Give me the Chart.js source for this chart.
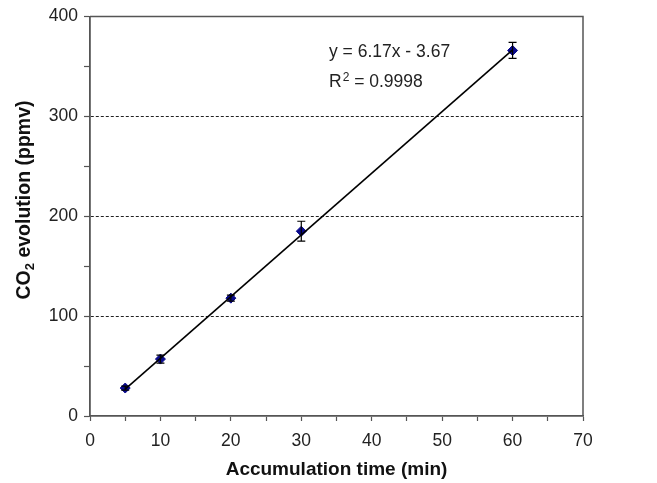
<!DOCTYPE html>
<html>
<head>
<meta charset="utf-8">
<script src="https://cdn.jsdelivr.net/npm/chart.js@4.4.0/dist/chart.umd.min.js"></script>
<style>
  html, body { margin: 0; padding: 0; background: #fff; }
  #wrap { width: 657px; height: 483px; }
</style>
</head>
<body>
<div id="wrap"><canvas id="co2Chart"></canvas></div>
<script>
// data
const times = [5, 10, 20, 30, 60];
const co2 = [28, 57, 118, 185, 366];
const co2Err = [2, 4, 3, 10, 8];
const fitX = [5, 60];
const fitY = [27, 366.5];
const eqText = "y = 6.17x - 3.67";
const r2Text = " = 0.9998";

const FONT = "'Liberation Sans', Arial, sans-serif";

// error bars, frame, equation and y title (with a real subscript)
const extras = {
  id: "extras",
  afterDatasetsDraw(chart) {
    const { ctx, chartArea, scales } = chart;
    ctx.save();
    ctx.strokeStyle = "#000";
    ctx.lineWidth = 1.2;
    times.forEach((t, i) => {
      const x = scales.x.getPixelForValue(t);
      const yTop = scales.y.getPixelForValue(co2[i] + co2Err[i]);
      const yBot = scales.y.getPixelForValue(co2[i] - co2Err[i]);
      ctx.beginPath();
      ctx.moveTo(x, yTop); ctx.lineTo(x, yBot);
      ctx.moveTo(x - 4, yTop); ctx.lineTo(x + 4, yTop);
      ctx.moveTo(x - 4, yBot); ctx.lineTo(x + 4, yBot);
      ctx.stroke();
    });
    // top and right frame
    ctx.strokeStyle = "#555";
    ctx.lineWidth = 1.5;
    ctx.beginPath();
    ctx.moveTo(chartArea.left, chartArea.top);
    ctx.lineTo(chartArea.right, chartArea.top);
    ctx.lineTo(chartArea.right, chartArea.bottom);
    ctx.stroke();
    // equation text
    ctx.fillStyle = "#222";
    ctx.textBaseline = "alphabetic";
    ctx.font = "17.5px " + FONT;
    ctx.fillText(eqText, 329, 57);
    ctx.fillText("R", 329, 87);
    let w = ctx.measureText("R").width;
    ctx.font = "12px " + FONT;
    ctx.fillText("2", 329 + w + 1, 81);
    w += ctx.measureText("2").width + 1;
    ctx.font = "17.5px " + FONT;
    ctx.fillText(r2Text, 329 + w, 87);

    // y axis title
    const big = "bold 19.5px " + FONT;
    const small = "bold 13px " + FONT;
    ctx.font = big;
    const w1 = ctx.measureText("CO").width;
    const w3 = ctx.measureText(" evolution (ppmv)").width;
    ctx.font = small;
    const w2 = ctx.measureText("2").width;
    const total = w1 + w2 + w3;
    ctx.fillStyle = "#111";
    ctx.translate(30, 200);
    ctx.rotate(-Math.PI / 2);
    let lx = -total / 2;
    ctx.font = big;
    ctx.fillText("CO", lx, 0);
    lx += w1;
    ctx.font = small;
    ctx.fillText("2", lx, 4);
    lx += w2;
    ctx.font = big;
    ctx.fillText(" evolution (ppmv)", lx, 0);
    ctx.restore();
  }
};

const ctx = document.getElementById("co2Chart").getContext("2d");
new Chart(ctx, {
  type: "scatter",
  data: {
    datasets: [
      {
        label: "Linear fit",
        type: "line",
        data: fitX.map((x, i) => ({ x: x, y: fitY[i] })),
        borderColor: "#000",
        borderWidth: 1.6,
        pointRadius: 0,
        fill: false,
        order: 1
      },
      {
        label: "CO2",
        data: times.map((t, i) => ({ x: t, y: co2[i] })),
        pointStyle: "rectRot",
        pointRadius: 5,
        backgroundColor: "#0a0a8c",
        borderColor: "#0a0a8c",
        order: 2
      }
    ]
  },
  plugins: [extras],
  options: {
    responsive: true,
    maintainAspectRatio: false,
    animation: false,
    layout: { padding: { top: 16, right: 74, left: 0, bottom: 0 } },
    plugins: {
      legend: { display: false },
      tooltip: { enabled: false }
    },
    scales: {
      x: {
        type: "linear",
        min: 0,
        max: 70,
        afterFit: (s) => { s.height = 67; },
        ticks: {
          stepSize: 5,
          autoSkip: false,
          maxRotation: 0,
          padding: 10,
          color: "#222",
          font: { size: 17.5, family: FONT },
          callback: (v) => (v % 10 === 0 ? v : "")
        },
        grid: {
          drawOnChartArea: false,
          tickLength: 5,
          tickColor: "#555",
          tickWidth: 1.2
        },
        border: { color: "#555", width: 1.8 },
        title: {
          display: true,
          text: "Accumulation time (min)",
          color: "#111",
          padding: { top: 0, bottom: 2 },
          font: { size: 19, weight: "bold", family: FONT }
        }
      },
      y: {
        min: 0,
        max: 400,
        afterFit: (s) => { s.width = 90; },
        ticks: {
          stepSize: 50,
          autoSkip: false,
          padding: 6,
          color: "#222",
          font: { size: 17.5, family: FONT },
          callback: (v) => (v % 100 === 0 ? v : "")
        },
        grid: {
          color: (c) => {
            const v = c.tick && c.tick.value;
            return v % 100 === 0 && v > 0 && v < 400 ? "#222" : "rgba(0,0,0,0)";
          },
          lineWidth: 1,
          tickLength: 6,
          tickColor: "#555",
          tickWidth: 1.2,
          tickBorderDash: []
        },
        border: { color: "#555", width: 1.8, dash: [3, 2] },
        title: { display: false }
      }
    }
  }
});
</script>
</body>
</html>
